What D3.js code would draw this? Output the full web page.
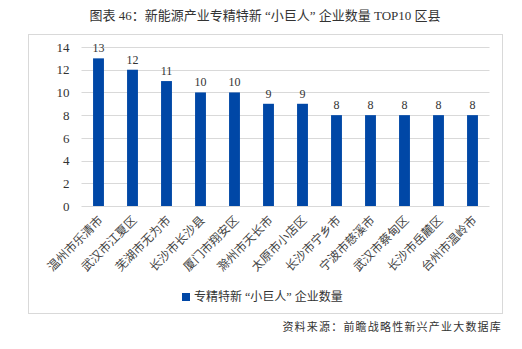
<!DOCTYPE html>
<html>
<head>
<meta charset="utf-8">
<script src="https://cdn.jsdelivr.net/npm/d3@7"></script>
<style>
  html, body { margin: 0; padding: 0; background: #fff; }
  svg { display: block; }
</style>
</head>
<body>
<script>
// Top-10 districts by number of new-energy "little giant" firms
const categories = ["温州市乐清市", "武汉市江夏区", "芜湖市无为市", "长沙市长沙县", "厦门市翔安区", "滁州市天长市",
                    "太原市小店区", "长沙市宁乡市", "宁波市慈溪市", "武汉市蔡甸区", "长沙市岳麓区", "台州市温岭市"];
const values = [13, 12, 11, 10, 10, 9, 9, 8, 8, 8, 8, 8];
const yTicks = [0, 2, 4, 6, 8, 10, 12, 14];
const seriesName = "专精特新 “小巨人” 企业数量";
const titleText = "图表 46：新能源产业专精特新 “小巨人” 企业数量 TOP10 区县";
const sourceText = "资料来源：前瞻战略性新兴产业大数据库";

const W = 522, H = 349;
const font = "'Liberation Serif', 'Times New Roman', 'Noto Sans CJK SC', serif";
const barColor = "#0047A6";

const svg = d3.select("body").append("svg").attr("width", W).attr("height", H);

// Title
svg.append("text")
  .attr("x", 265).attr("y", 20)
  .attr("text-anchor", "middle")
  .attr("font-family", font).attr("font-size", 13).attr("fill", "#333")
  .text(titleText);

// Chart frame
svg.append("rect")
  .attr("x", 28.5).attr("y", 34.5).attr("width", 474).attr("height", 279)
  .attr("fill", "none").attr("stroke", "#d9d9d9").attr("stroke-width", 1);

const x = d3.scaleBand().domain(categories).range([81.5, 489.5]).paddingInner(0.68).paddingOuter(0.34);
const y = d3.scaleLinear().domain([0, 14]).range([206, 47]);

// Gridlines
svg.append("g").selectAll("line").data(yTicks).join("line")
  .attr("x1", 81.5).attr("x2", 489.5)
  .attr("y1", d => Math.round(y(d)) + 0.5).attr("y2", d => Math.round(y(d)) + 0.5)
  .attr("stroke", "#d9d9d9").attr("stroke-width", 1);

// Y axis tick labels
const yAxis = d3.axisLeft(y).tickValues(yTicks).tickSize(0).tickPadding(12);
const gy = svg.append("g").attr("transform", "translate(81.5,0)").call(yAxis);
gy.select(".domain").remove();
gy.selectAll("text").attr("font-family", font).attr("font-size", 13).attr("fill", "#333");

// Bars
svg.append("g").selectAll("rect").data(values).join("rect")
  .attr("x", (d, i) => x(categories[i]))
  .attr("width", x.bandwidth())
  .attr("y", d => y(d))
  .attr("height", d => y(0) - y(d))
  .attr("fill", barColor);

// Value labels
svg.append("g").selectAll("text").data(values).join("text")
  .attr("x", (d, i) => x(categories[i]) + x.bandwidth() / 2)
  .attr("y", d => y(d) - 6)
  .attr("text-anchor", "middle")
  .attr("font-family", font).attr("font-size", 12).attr("fill", "#333")
  .text(d => d);

// Category labels, rotated
const xAxis = d3.axisBottom(x).tickSize(0).tickPadding(0);
const gx = svg.append("g").attr("transform", "translate(0,206)").call(xAxis);
gx.select(".domain").remove();
gx.selectAll("text")
  .attr("font-family", font).attr("font-size", 12).attr("fill", "#444")
  .attr("text-anchor", "end")
  .attr("dy", 0)
  .attr("transform", "translate(5,15) rotate(-45)");

// Legend
svg.append("rect").attr("x", 182).attr("y", 293).attr("width", 8).attr("height", 8).attr("fill", barColor);
svg.append("text")
  .attr("x", 194).attr("y", 301)
  .attr("font-family", font).attr("font-size", 12).attr("fill", "#333")
  .text(seriesName);

// Source note
svg.append("text")
  .attr("x", 502).attr("y", 331)
  .attr("text-anchor", "end")
  .attr("font-family", font).attr("font-size", 11).attr("fill", "#333")
  .attr("letter-spacing", 1.2)
  .text(sourceText);
</script>
</body>
</html>
